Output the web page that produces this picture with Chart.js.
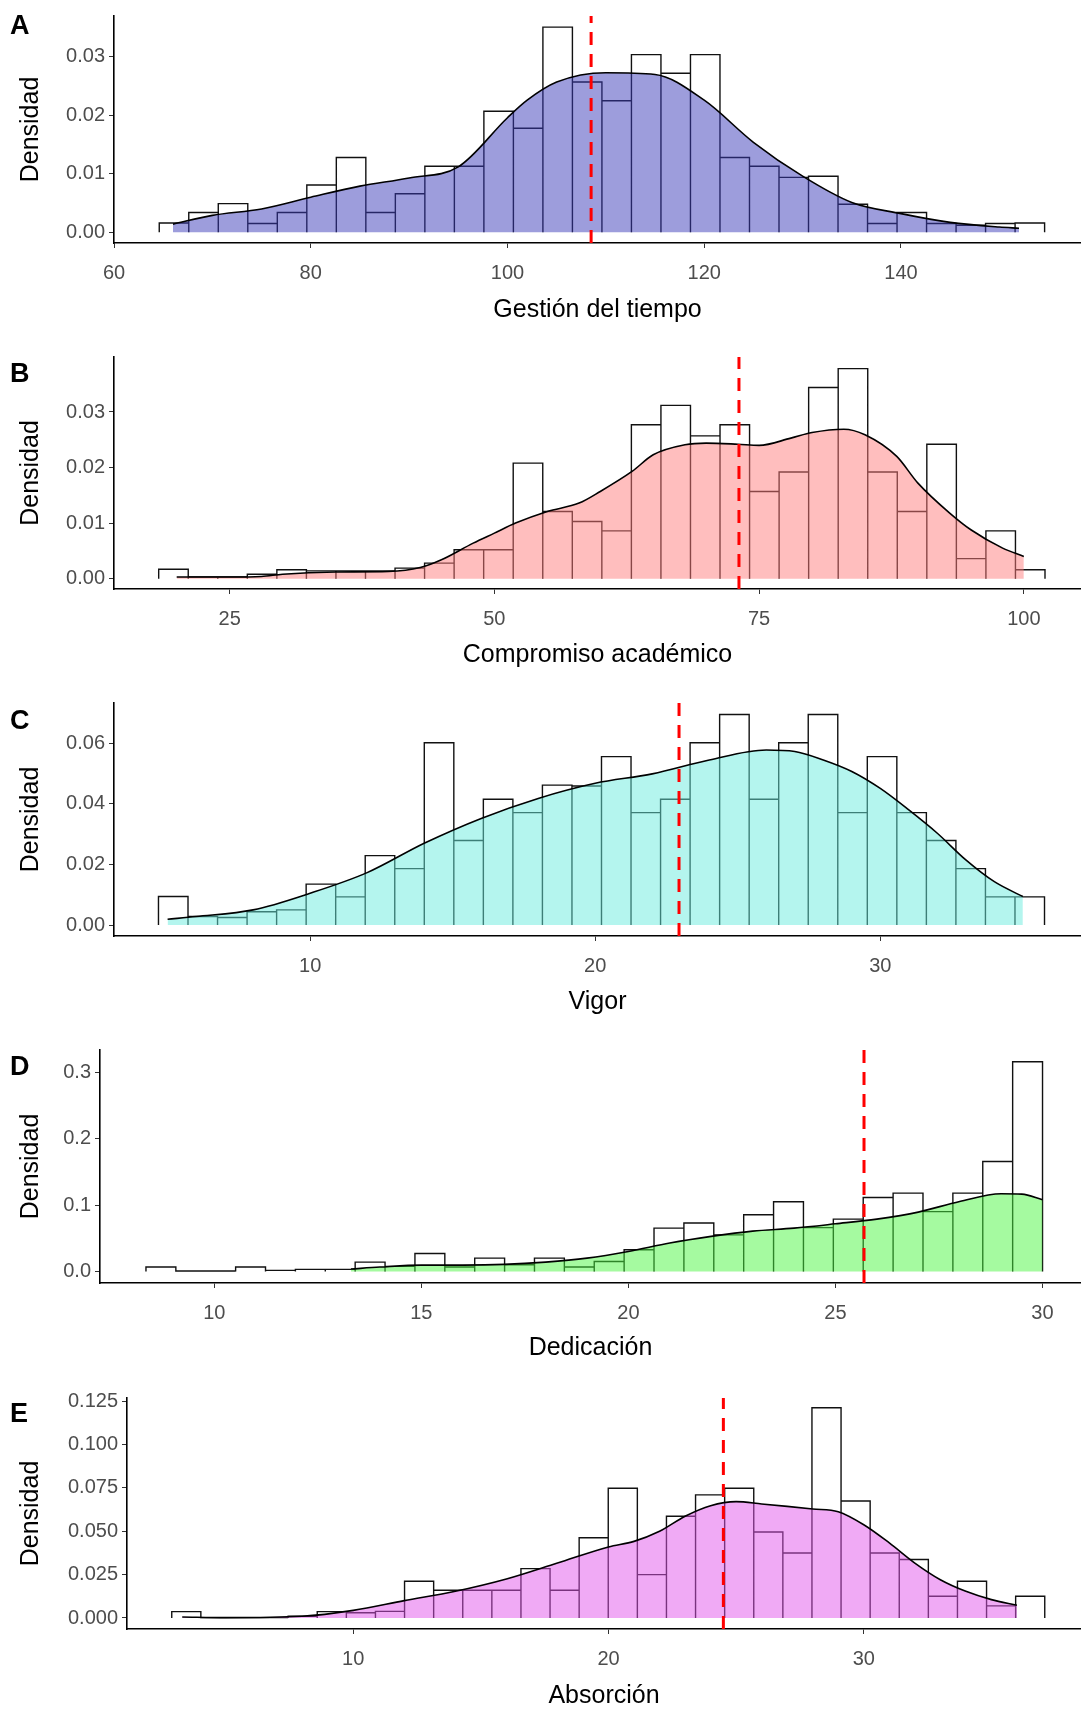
<!DOCTYPE html>
<html>
<head>
<meta charset="utf-8">
<title>Densidad</title>
<script src="https://cdn.jsdelivr.net/npm/chart.js@4.4.0/dist/chart.umd.min.js"></script>
<style>
  body { margin: 0; background: #fff; }
  #wrap { position: relative; width: 1081px; height: 1713px; }
  canvas { position: absolute; left: 0; }
</style>
</head>
<body>
<div id="wrap">
  <canvas id="cA" width="1081" height="340" style="top:0px"></canvas>
  <canvas id="cB" width="1081" height="340" style="top:340px"></canvas>
  <canvas id="cC" width="1081" height="350" style="top:680px"></canvas>
  <canvas id="cD" width="1081" height="343" style="top:1030px"></canvas>
  <canvas id="cE" width="1081" height="340" style="top:1373px"></canvas>
</div>
<script>
// A - Gestión del tiempo
var gtBinStart = 64.6, gtBinWidth = 3.0;
var gtHeights = [0.0016,0.0034,0.0049,0.0015,0.0034,0.0081,0.0128,0.0034,0.0066,0.0113,
                 0.0113,0.0207,0.0178,0.0351,0.0257,0.0225,0.0304,0.0272,0.0304,0.0128,
                 0.0113,0.0094,0.0096,0.0048,0.0015,0.0034,0.0015,0.0012,0.0015,0.0016];
var gtDensX = [66,70,75,80,85,90,95,100,102,105,110,115,120,125,130,135,140,145,150,152];
var gtDensY = [0.0014,0.0029,0.0040,0.0060,0.0079,0.0093,0.0112,0.0196,0.0226,0.0257,0.0273,0.0270,0.0226,0.0154,0.0096,0.0051,0.0032,0.0017,0.0009,0.0007];
var gtMean = 108.5;
var gtXTicks = [60,80,100,120,140];
var gtYTicks = [0,0.01,0.02,0.03];

// B - Compromiso académico
var caBinStart = 18.3, caBinWidth = 2.79;
var caHeights = [0.0017,0.0003,0.0003,0.0008,0.0016,0.0014,0.0014,0.0014,0.0019,0.0028,
                 0.0052,0.0052,0.0208,0.0121,0.0103,0.0086,0.0277,0.0312,0.0257,0.0277,
                 0.0157,0.0192,0.0344,0.0378,0.0192,0.0121,0.0242,0.0036,0.0086,0.0016];
var caDensX = [20,25,28,30,35,40,43,45,48,50,52,55,58,60,63,65,68,70,73,75,78,80,83,85,88,90,93,95,98,100];
var caDensY = [0.0003,0.0003,0.0004,0.0008,0.0012,0.0013,0.0020,0.0034,0.0064,0.0082,0.0100,0.0121,0.0136,0.0157,0.0193,0.0223,0.0241,0.0244,0.0242,0.0240,0.0253,0.0263,0.0269,0.0259,0.0220,0.0172,0.0118,0.0088,0.0055,0.0040];
var caMean = 73.1;
var caXTicks = [25,50,75,100];
var caYTicks = [0,0.01,0.02,0.03];

// C - Vigor
var viBinStart = 4.68, viBinWidth = 1.036;
var viHeights = [0.0094,0.0028,0.0025,0.0044,0.0050,0.0135,0.0093,0.0229,0.0186,0.0602,
                 0.0279,0.0415,0.0371,0.0462,0.0459,0.0556,0.0371,0.0415,0.0602,0.0695,
                 0.0415,0.0602,0.0695,0.0371,0.0556,0.0371,0.0279,0.0186,0.0093,0.0093];
var viDensX = [5,6,8,10,12,14,16,18,20,22,24,26,27,28,29,30,31,32,33,34,35];
var viDensY = [0.0019,0.0028,0.0050,0.0105,0.0173,0.0270,0.0352,0.0418,0.0468,0.0499,0.0545,0.0578,0.0573,0.0545,0.0507,0.0451,0.0380,0.0303,0.0215,0.0143,0.0094];
var viMean = 22.94;
var viXTicks = [10,20,30];
var viYTicks = [0,0.02,0.04,0.06];

// D - Dedicación
var deBinStart = 8.35, deBinWidth = 0.7217;
var deHeights = [0.0065,0.0005,0.0005,0.0065,0.0015,0.0030,0.0030,0.0140,0.0075,0.0270,
                 0.0065,0.0200,0.0100,0.0200,0.0065,0.0150,0.0326,0.0652,0.0728,0.0550,
                 0.0853,0.1049,0.0660,0.0788,0.1114,0.1180,0.0900,0.1180,0.1656,0.3160];
var deDensX = [13.3,14,15,16,17,18,19,20,21,22,23,24,25,26,27,28,29,29.5,30];
var deDensY = [0.0035,0.0065,0.0095,0.0095,0.0105,0.0140,0.0200,0.0300,0.0427,0.0527,0.0607,0.0652,0.0717,0.0788,0.0893,0.1054,0.1170,0.1164,0.1080];
var deMean = 25.69;
var deXTicks = [10,15,20,25,30];
var deYTicks = [0,0.1,0.2,0.3];

// E - Absorción
var abBinStart = 2.89, abBinWidth = 1.14;
var abHeights = [0.0037,0.0002,0.0002,0.0002,0.0010,0.0037,0.0030,0.0038,0.0212,0.0160,
                 0.0160,0.0160,0.0285,0.0160,0.0463,0.0748,0.0250,0.0587,0.0710,0.0748,
                 0.0496,0.0375,0.1213,0.0675,0.0375,0.0337,0.0125,0.0212,0.0070,0.0125];
var abDensX = [3.3,5,8,10,12,14,16,18,20,21,22,23,24,25,26,27,28,29,30,31,32,33,34,35,36];
var abDensY = [0.0006,0.0002,0.0010,0.0044,0.0100,0.0154,0.0225,0.0317,0.0410,0.0442,0.0500,0.0587,0.0648,0.0671,0.0658,0.0644,0.0629,0.0613,0.0538,0.0433,0.0317,0.0221,0.0154,0.0106,0.0073];
var abMean = 24.5;
var abXTicks = [10,20,30];
var abYTicks = [0,0.025,0.05,0.075,0.1,0.125];

var FONT = '"Liberation Sans", Arial, sans-serif';

// histogram outline, one rectangle per bin
function histPoints(start, width, heights) {
  var pts = [];
  for (let i = 0; i < heights.length; i++) {
    var l = start + i * width, r = l + width;
    pts.push({x: l, y: 0}, {x: l, y: heights[i]}, {x: r, y: heights[i]}, {x: r, y: 0});
  }
  return pts;
}

// panel letter + axis titles at fixed spots
var labelPlugin = {
  id: 'labels',
  afterDraw: function (chart) {
    var o = chart.options.plugins.labels;
    var ctx = chart.ctx, a = chart.chartArea;
    ctx.save();
    ctx.fillStyle = '#000';
    ctx.textBaseline = 'middle';
    ctx.font = 'bold 27px ' + FONT;
    ctx.fillText(o.letter, 10, o.letterY);
    ctx.font = '25px ' + FONT;
    ctx.textAlign = 'center';
    ctx.fillText(o.xTitle, (a.left + a.right) / 2, o.xTitleY);
    ctx.translate(31, (a.top + a.bottom) / 2);
    ctx.rotate(-Math.PI / 2);
    ctx.fillText('Densidad', 0, 0);
    ctx.restore();
  }
};

function drawPanel(p) {
  var canvas = document.getElementById(p.id);
  var H = canvas.height;
  new Chart(canvas, {
    type: 'line',
    data: {
      datasets: [
        {
          data: histPoints(p.binStart, p.binWidth, p.heights), order: 3,
          borderColor: '#111', borderWidth: 1.4, pointRadius: 0, tension: 0, fill: false
        },
        {
          data: p.densX.map((x, i) => ({x: x, y: p.densY[i]})), order: 2,
          borderColor: '#000', borderWidth: 1.6, pointRadius: 0,
          cubicInterpolationMode: 'monotone',
          fill: 'origin', backgroundColor: p.fill
        },
        {
          data: [{x: p.mean, y: p.yMin}, {x: p.mean, y: p.yMax}], order: 1,
          borderColor: '#ff0000', borderWidth: 3, borderDash: [13, 9], pointRadius: 0, fill: false
        }
      ]
    },
    options: {
      responsive: false,
      animation: false,
      layout: { padding: { top: p.top, right: 0, left: 0, bottom: 0 } },
      plugins: { legend: { display: false }, tooltip: { enabled: false },
                 labels: { letter: p.letter, letterY: p.letterY, xTitle: p.xTitle, xTitleY: p.xTitleY } },
      scales: {
        x: {
          type: 'linear', min: p.xMin, max: p.xMax,
          afterBuildTicks: s => { s.ticks = p.xTicks.map(v => ({value: v})); },
          afterFit: s => { s.height = H - p.axisY; },
          border: { display: true, color: '#000', width: 1.6 },
          grid: { drawOnChartArea: false, drawTicks: true, tickLength: 5, color: '#333' },
          ticks: { color: '#4d4d4d', font: { size: 20, family: FONT }, padding: 13, maxRotation: 0 }
        },
        y: {
          min: p.yMin, max: p.yMax,
          afterBuildTicks: s => { s.ticks = p.yTicks.map(v => ({value: v})); },
          afterFit: s => { s.width = p.left; },
          border: { display: true, color: '#000', width: 1.6 },
          grid: { drawOnChartArea: false, drawTicks: true, tickLength: 5, color: '#333' },
          ticks: { color: '#4d4d4d', font: { size: 20, family: FONT }, padding: 4,
                   callback: v => v.toFixed(p.dec) }
        }
      }
    },
    plugins: [labelPlugin]
  });
}

drawPanel({ id: 'cA', letter: 'A', letterY: 27, binStart: gtBinStart, binWidth: gtBinWidth, heights: gtHeights,
  densX: gtDensX, densY: gtDensY, mean: gtMean, xTicks: gtXTicks, yTicks: gtYTicks, dec: 2,
  xMin: 60, xMax: 158.3, yMin: -0.00183, yMax: 0.037, top: 10, axisY: 243, left: 114,
  xTitle: 'Gestión del tiempo', xTitleY: 310, fill: 'rgba(60,60,185,0.5)' });
drawPanel({ id: 'cB', letter: 'B', letterY: 35, binStart: caBinStart, binWidth: caBinWidth, heights: caHeights,
  densX: caDensX, densY: caDensY, mean: caMean, xTicks: caXTicks, yTicks: caYTicks, dec: 2,
  xMin: 14.08, xMax: 105.4, yMin: -0.00186, yMax: 0.0399, top: 17, axisY: 249, left: 114,
  xTitle: 'Compromiso académico', xTitleY: 315, fill: 'rgba(255,125,125,0.5)' });
drawPanel({ id: 'cC', letter: 'C', letterY: 42, binStart: viBinStart, binWidth: viBinWidth, heights: viHeights,
  densX: viDensX, densY: viDensY, mean: viMean, xTicks: viXTicks, yTicks: viYTicks, dec: 2,
  xMin: 3.12, xMax: 37.04, yMin: -0.00363, yMax: 0.0733, top: 23, axisY: 256, left: 114,
  xTitle: 'Vigor', xTitleY: 322, fill: 'rgba(105,235,221,0.5)' });
drawPanel({ id: 'cD', letter: 'D', letterY: 38, binStart: deBinStart, binWidth: deBinWidth, heights: deHeights,
  densX: deDensX, densY: deDensY, mean: deMean, xTicks: deXTicks, yTicks: deYTicks, dec: 1,
  xMin: 7.24, xMax: 30.93, yMin: -0.0175, yMax: 0.3336, top: 20, axisY: 253, left: 100,
  xTitle: 'Dedicación', xTitleY: 318, fill: 'rgba(75,245,65,0.5)' });
drawPanel({ id: 'cE', letter: 'E', letterY: 42, binStart: abBinStart, binWidth: abBinWidth, heights: abHeights,
  densX: abDensX, densY: abDensY, mean: abMean, xTicks: abXTicks, yTicks: abYTicks, dec: 3,
  xMin: 1.137, xMax: 38.51, yMin: -0.00635, yMax: 0.1269, top: 25, axisY: 256, left: 127,
  xTitle: 'Absorción', xTitleY: 323, fill: 'rgba(225,85,235,0.5)' });
</script>
</body>
</html>
